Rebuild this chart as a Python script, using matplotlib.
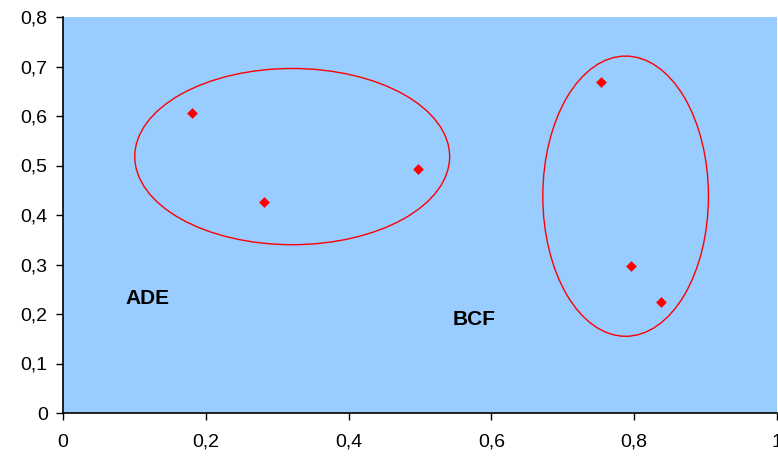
import matplotlib
matplotlib.use("Agg")
import matplotlib.pyplot as plt
from matplotlib.patches import Ellipse
from matplotlib.ticker import FuncFormatter

# Data
x_vals = [0.18, 0.282, 0.497, 0.754, 0.795, 0.838]
y_vals = [0.607, 0.427, 0.493, 0.669, 0.297, 0.225]

# Group outlines: center x, center y, width, height
ell_cx = [0.321, 0.788]
ell_cy = [0.518, 0.438]
ell_w = [0.441, 0.232]
ell_h = [0.356, 0.566]

group_labels = ["ADE", "BCF"]
label_x = [0.118, 0.576]
label_y = [0.231, 0.188]

x_ticks = [0, 0.2, 0.4, 0.6, 0.8, 1.0]
y_ticks = [0, 0.1, 0.2, 0.3, 0.4, 0.5, 0.6, 0.7, 0.8]

plt.rcParams['font.family'] = ['Liberation Sans', 'DejaVu Sans']

fig = plt.figure(figsize=(7.78, 4.59), dpi=100)
ax = fig.add_axes([63/778, 46/459, 714/778, 396/459])
ax.set_facecolor('#99CCFF')

for cx, cy, w, h in zip(ell_cx, ell_cy, ell_w, ell_h):
    ax.add_patch(Ellipse((cx, cy), w, h, fill=False, edgecolor='#FF0000', linewidth=1.0))

ax.scatter(x_vals, y_vals, marker='D', s=30, color='#FF0000', zorder=3, linewidths=0)

for t, lx, ly in zip(group_labels, label_x, label_y):
    ax.text(lx, ly, t, fontsize=15, fontweight='bold', ha='center', va='center', color='black')

ax.set_xlim(0, 1)
ax.set_ylim(0, 0.8)
ax.set_xticks(x_ticks)
ax.set_yticks(y_ticks)
fmt = FuncFormatter(lambda v, p: ('%g' % round(v, 2)).replace('.', ','))
ax.xaxis.set_major_formatter(fmt)
ax.yaxis.set_major_formatter(fmt)
ax.tick_params(direction='out', length=5, width=1, labelsize=14, colors='black')
ax.tick_params(axis='x', pad=10)
ax.tick_params(axis='y', pad=6)
for s in ['top', 'right']:
    ax.spines[s].set_visible(False)
for s in ['left', 'bottom']:
    ax.spines[s].set_color('black')
    ax.spines[s].set_linewidth(1.2)

fig.savefig('out.png', dpi=100)
